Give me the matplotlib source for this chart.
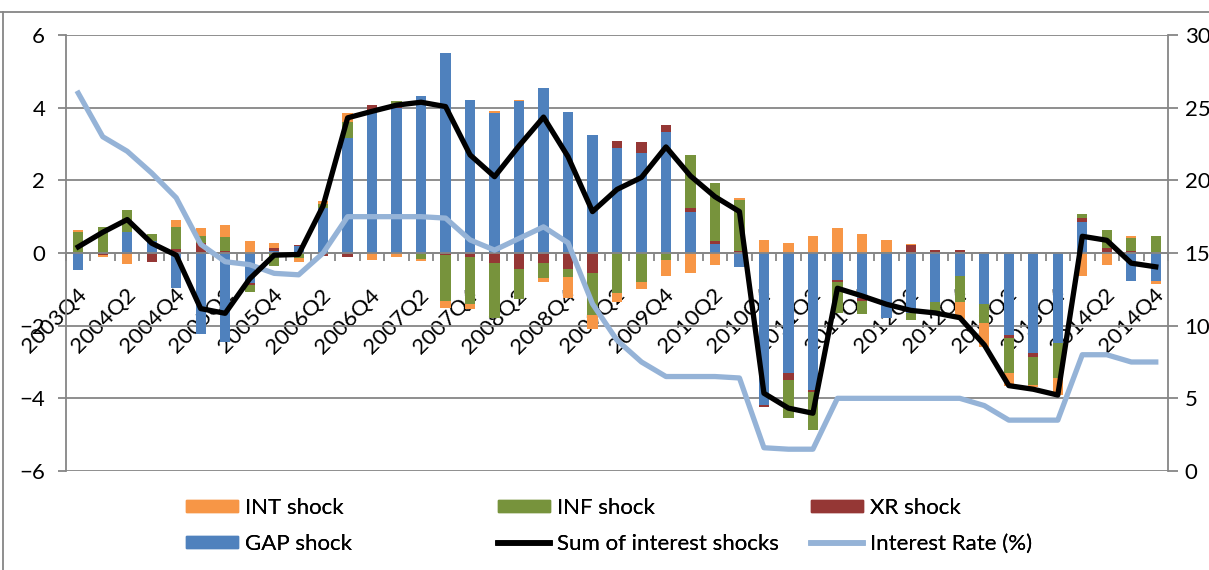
import numpy as np
import matplotlib.pyplot as plt
from matplotlib.lines import Line2D
from matplotlib.patches import Patch
import matplotlib.transforms as mtransforms

plt.rcParams['font.family'] = ['Lato', 'DejaVu Sans']

quarters = ['2003Q4',
            '2004Q1', '2004Q2', '2004Q3', '2004Q4',
            '2005Q1', '2005Q2', '2005Q3', '2005Q4',
            '2006Q1', '2006Q2', '2006Q3', '2006Q4',
            '2007Q1', '2007Q2', '2007Q3', '2007Q4',
            '2008Q1', '2008Q2', '2008Q3', '2008Q4',
            '2009Q1', '2009Q2', '2009Q3', '2009Q4',
            '2010Q1', '2010Q2', '2010Q3', '2010Q4',
            '2011Q1', '2011Q2', '2011Q3', '2011Q4',
            '2012Q1', '2012Q2', '2012Q3', '2012Q4',
            '2013Q1', '2013Q2', '2013Q3', '2013Q4',
            '2014Q1', '2014Q2', '2014Q3', '2014Q4']

gap_shock = [-0.47, 0.00, 0.59, 0.33, -0.97, -2.24, -2.44, -0.83, 0.05, 0.20,
             1.23, 3.17, 3.94, 3.98, 4.33, 5.50, 4.21, 3.84, 4.18, 4.53,
             3.89, 3.25, 2.90, 2.74, 3.34, 1.12, 0.25, -0.38, -4.17, -3.29,
             -3.77, -0.74, -1.23, -1.78, -1.66, -1.34, -0.62, -1.39, -2.25, -2.76,
             -2.49, 0.84, 0.03, -0.77, -0.77]
xr_shock = [0.00, -0.05, -0.04, -0.26, 0.11, 0.27, 0.05, -0.06, 0.10, 0.02,
            -0.09, -0.10, 0.12, 0.05, 0.00, -0.05, -0.11, -0.28, -0.44, -0.28,
            -0.44, -0.56, 0.17, 0.32, 0.18, 0.11, 0.08, 0.06, -0.07, -0.20,
            -0.06, -0.06, -0.09, 0.00, 0.22, 0.07, 0.07, 0.03, -0.09, -0.11,
            0.00, 0.11, 0.12, 0.06, 0.00]
inf_shock = [0.57, 0.72, 0.60, 0.18, 0.61, 0.21, 0.39, -0.17, -0.35, -0.15,
             0.11, 0.44, 0.00, 0.15, -0.17, -1.27, -1.28, -1.50, -0.83, -0.40,
             -0.21, -1.15, -1.11, -0.81, -0.19, 1.47, 1.59, 1.39, 0.00, -1.06,
             -1.04, -0.85, -0.37, 0.04, -0.18, -0.32, -0.72, -0.55, -0.96, -0.76,
             -0.96, 0.11, 0.49, 0.36, 0.48]
int_shock = [0.06, -0.06, -0.25, 0.00, 0.18, 0.22, 0.32, 0.33, 0.12, -0.11,
             0.09, 0.23, -0.19, -0.12, -0.04, -0.18, -0.15, 0.06, 0.03, -0.13,
             -0.58, -0.39, -0.25, -0.17, -0.43, -0.56, -0.33, 0.06, 0.37, 0.27,
             0.46, 0.68, 0.52, 0.32, 0.03, 0.00, -0.48, -0.64, -0.35, -0.07,
             -0.46, -0.62, -0.33, 0.05, -0.09]
sum_shocks = [0.17, 0.57, 0.92, 0.27, -0.06, -1.53, -1.66, -0.71, -0.06, -0.04,
              1.30, 3.72, 3.90, 4.07, 4.15, 4.03, 2.70, 2.10, 2.95, 3.74,
              2.65, 1.14, 1.75, 2.08, 2.92, 2.12, 1.55, 1.14, -3.86, -4.27,
              -4.41, -0.97, -1.18, -1.41, -1.58, -1.65, -1.78, -2.53, -3.65, -3.75,
              -3.91, 0.46, 0.35, -0.28, -0.38]
interest_rate = [26.0, 23.0, 22.0, 20.5, 18.8, 15.6, 14.4, 14.2, 13.6, 13.5,
                 15.0, 17.5, 17.5, 17.5, 17.5, 17.4, 15.9, 15.2, 16.0, 16.8,
                 15.7, 11.5, 9.0, 7.5, 6.5, 6.5, 6.5, 6.4, 1.6, 1.5,
                 1.5, 5.0, 5.0, 5.0, 5.0, 5.0, 5.0, 4.5, 3.5, 3.5,
                 3.5, 8.0, 8.0, 7.5, 7.5]

c_int = '#F79646'
c_inf = '#77933C'
c_xr = '#953735'
c_gap = '#4F81BD'
c_rate = '#95B3D7'
grid_c = '#868686'

x = np.arange(len(quarters))

fig = plt.figure(figsize=(12.09, 5.70), dpi=100)
ax = fig.add_axes([66/1209, 1-471/570, (1168-66)/1209, (471-35)/570])
ax2 = ax.twinx()

# stacked bars, positives and negatives stacked separately (GAP, XR, INF, INT)
pos_bottom = np.zeros(len(x))
neg_bottom = np.zeros(len(x))
for vals, col in [(gap_shock, c_gap), (xr_shock, c_xr), (inf_shock, c_inf), (int_shock, c_int)]:
    v = np.array(vals)
    bottom = np.where(v >= 0, pos_bottom, neg_bottom)
    ax.bar(x, v, 0.42, bottom=bottom, color=col, zorder=2)
    pos_bottom += np.where(v >= 0, v, 0)
    neg_bottom += np.where(v < 0, v, 0)

ax2.plot(x, interest_rate, color=c_rate, lw=3.8, solid_joinstyle='round', zorder=3)
ax2.plot(x, sum_shocks, color='black', lw=3.8, solid_joinstyle='round', zorder=4,
         transform=ax.transData)

ax.set_xlim(-0.5, len(x) - 0.5)
ax.set_ylim(-6, 6)
ax2.set_ylim(0, 30)
ax.set_yticks([-6, -4, -2, 0, 2, 4, 6])
ax2.set_yticks([0, 5, 10, 15, 20, 25, 30])

ax.yaxis.grid(True, color=grid_c, lw=1.3)
ax.set_axisbelow(True)

for s in ['top', 'right']:
    ax.spines[s].set_visible(False)
ax.spines['left'].set_color(grid_c)
ax.spines['left'].set_linewidth(1.3)
ax.spines['bottom'].set_position(('data', 0))
ax.spines['bottom'].set_color(grid_c)
ax.spines['bottom'].set_linewidth(1.3)
for s in ['top', 'left', 'bottom']:
    ax2.spines[s].set_visible(False)
ax2.spines['right'].set_color(grid_c)
ax2.spines['right'].set_linewidth(1.3)

ax.tick_params(axis='y', length=6, width=1.3, color=grid_c, pad=9, labelsize=16)
ax2.tick_params(axis='y', length=7, width=1.3, color=grid_c, pad=5, labelsize=16)

ax.set_xticks(x[::2])
ax.set_xticklabels(quarters[::2])
ax.set_xticks(np.arange(-0.5, len(x), 1), minor=True)
ax.tick_params(axis='x', which='major', length=0, pad=23, labelsize=16)
ax.tick_params(axis='x', which='minor', length=6, width=1.3, color=grid_c)
offset = mtransforms.ScaledTranslation(-2/100, 0, fig.dpi_scale_trans)
for lab in ax.get_xticklabels():
    lab.set_rotation(45)
    lab.set_rotation_mode('anchor')
    lab.set_ha('right')
    lab.set_va('top')
    lab.set_transform(lab.get_transform() + offset)

# legend: three columns of two entries each
entries = [
    [(Patch(color=c_int), 'INT shock'), (Patch(color=c_gap), 'GAP shock')],
    [(Patch(color=c_inf), 'INF shock'), (Line2D([], [], color='black', lw=4), 'Sum of interest shocks')],
    [(Patch(color=c_xr), 'XR shock'), (Line2D([], [], color=c_rate, lw=4), 'Interest Rate (%)')],
]
col_x = [186, 498, 811]
for cx, ent in zip(col_x, entries):
    leg = fig.legend([e[0] for e in ent], [e[1] for e in ent],
                     loc='upper left', bbox_to_anchor=(cx/1209, 1-498/570),
                     frameon=False, fontsize=16, handlelength=2.35, handleheight=0.5,
                     handletextpad=0.3, labelspacing=0.72, borderpad=0, borderaxespad=0)
    fig.add_artist(leg)

# chart border
fig.add_artist(Line2D([0, 1], [1-12/570, 1-12/570], color=grid_c, lw=1.3, transform=fig.transFigure))
fig.add_artist(Line2D([3/1209, 3/1209], [0, 1-12/570], color=grid_c, lw=1.3, transform=fig.transFigure))

fig.savefig('out.png', dpi=100)
